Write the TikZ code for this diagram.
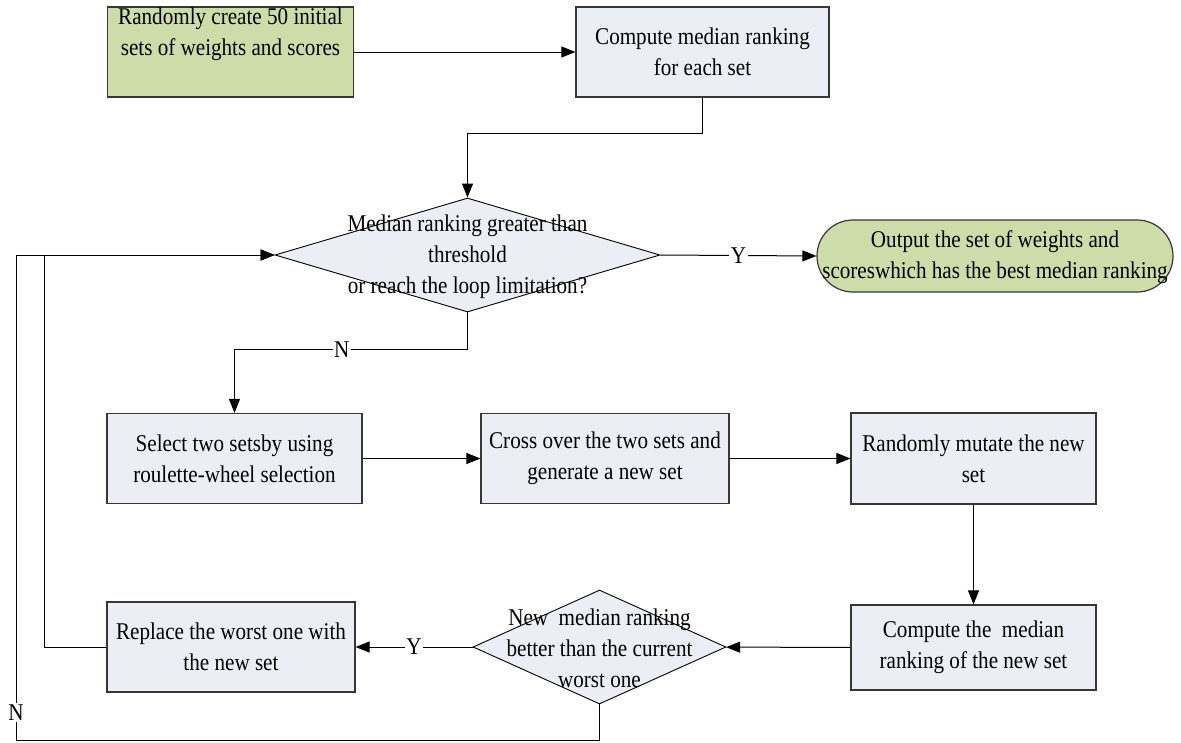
\documentclass[tikz,border=0pt]{standalone}
\usepackage{fontspec}
\setmainfont{Liberation Serif}[FakeStretch=0.88]
\usetikzlibrary{arrows.meta,shapes.geometric}
\definecolor{stepgreen}{RGB}{206,220,170}
\definecolor{stepgray}{RGB}{235,238,245}
\definecolor{edgegray}{RGB}{55,55,55}
\begin{document}
\begin{tikzpicture}[x=1pt,y=-1pt,
  txt/.style={font=\fontsize{24}{31}\selectfont, align=center, inner sep=0pt},
  procbox/.style={draw=edgegray, line width=1.2pt, fill=stepgray, txt},
  startbox/.style={procbox, fill=stepgreen},
  decision/.style={diamond, draw=black, line width=0.9pt, fill=stepgray, inner sep=0pt},
  flow/.style={draw=black, line width=1pt, -{Triangle[length=14pt,width=11pt]}},
  answer/.style={txt, fill=white, inner sep=1.5pt}]
\useasboundingbox (0,0) rectangle (1181,742);

% initialisation and evaluation
\node[startbox, minimum width=246pt, minimum height=90pt] (init) at (230.5,52)
  {Randomly create 50 initial\\sets of weights and scores\\\strut};
\node[procbox, minimum width=253pt, minimum height=90pt] (rank) at (702.5,52)
  {Compute median ranking\\for each set};

% termination test
\node[decision, minimum width=385pt, minimum height=114pt] (check) at (467.5,255) {};
\node[txt] (checktext) at ([yshift=-2pt]check.center)
  {Median ranking greater than\\threshold\\or reach the loop limitation?};

% result
\node[startbox, rounded corners=36pt, minimum width=356pt, minimum height=72pt] (output) at (995,256) {};
\node[txt] (outputtext) at ([yshift=-1pt]output.center)
  {Output the set of weights and\\scoreswhich has the best median ranking};

% genetic operators
\node[procbox, minimum width=255pt, minimum height=90pt] (select) at (234.5,458.5)
  {Select two setsby using\\roulette-wheel selection};
\node[procbox, minimum width=248pt, minimum height=90pt] (cross) at (605,458.5)
  {Cross over the two sets and\\generate a new set};
\node[procbox, minimum width=245pt, minimum height=91pt] (mutate) at (973.5,458.5)
  {Randomly mutate the new\\set};
\node[procbox, minimum width=245pt, minimum height=85pt] (evaluate) at (973.5,647.5)
  {Compute the~ median\\ranking of the new set};

% replacement test
\node[decision, minimum width=253pt, minimum height=114pt] (better) at (599.5,647) {};
\node[txt] (bettertext) at ([yshift=-1pt]better.center)
  {New~~median ranking\\better than the current\\worst one};
\node[procbox, minimum width=248pt, minimum height=90pt] (replace) at (231,647)
  {Replace the worst one with\\the new set};

\coordinate (outerbottom) at (16,740);

% connectors
\draw[flow] (init) -- (rank);
\draw[flow] (rank.south) -- ++(0,36) -| (check.north);
\draw[flow] (check.east) -- node[answer]{Y} (output.west);
\draw[flow] (check.south) -- ++(0,37) -| node[answer, pos=0.27]{N} (select.north);
\draw[flow] (select) -- (cross);
\draw[flow] (cross) -- (mutate);
\draw[flow] (mutate) -- (evaluate);
\draw[flow] (evaluate) -- (better);
\draw[flow] (better) -- node[answer]{Y} (replace);
\draw[flow] (replace.west) -- ++(-62,0) |- (check.west);
\draw[flow] (better.south) |- (outerbottom) |- node[answer, pos=0.028]{N} (check.west);
\end{tikzpicture}
\end{document}
